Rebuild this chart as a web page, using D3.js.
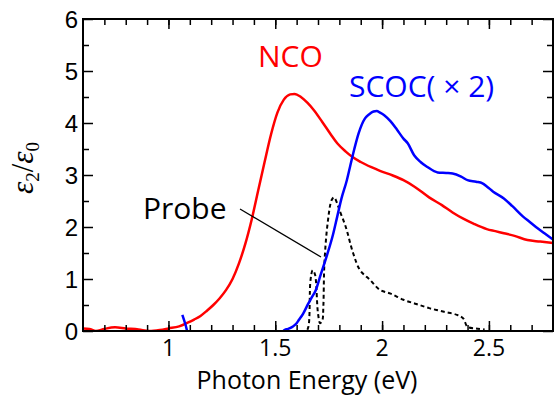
<!DOCTYPE html>
<html><head><meta charset="utf-8">
<script src="https://cdn.jsdelivr.net/npm/d3@7/dist/d3.min.js"></script>
<style>body{margin:0;background:#fff}svg{display:block}</style>
</head><body><svg id="c" width="554" height="397"></svg>
<script>
// NCO epsilon2/epsilon0 (photon energy eV, value)
const ncoE = [0.60,0.63,0.66,0.70,0.75,0.80,0.86,0.91,0.96,1.00,1.05,1.09,1.12,1.15,1.18,1.21,1.24,1.27,1.30,1.33,1.36,1.39,1.42,1.45,1.48,1.51,1.54,1.57,1.59,1.62,1.65,1.68,1.72,1.76,1.79,1.83,1.86,1.90,1.95,1.99,2.05,2.10,2.15,2.22,2.28,2.33,2.38,2.43,2.49,2.53,2.57,2.62,2.68,2.74,2.80];
const ncoV = [0.05,0.04,0.00,0.04,0.07,0.05,0.03,0.00,0.02,0.05,0.09,0.16,0.22,0.29,0.39,0.50,0.63,0.79,1.00,1.30,1.68,2.15,2.70,3.25,3.78,4.20,4.45,4.55,4.56,4.50,4.39,4.25,4.02,3.78,3.61,3.45,3.35,3.25,3.15,3.08,2.99,2.90,2.78,2.57,2.42,2.28,2.16,2.06,1.96,1.92,1.88,1.83,1.75,1.72,1.69];
// SCOC (x2)
const scocE = [1.065,1.08,1.09,1.15,1.30,1.45,1.53,1.545,1.56,1.58,1.60,1.61,1.63,1.655,1.67,1.69,1.71,1.74,1.77,1.79,1.81,1.835,1.85,1.87,1.89,1.92,1.94,1.96,1.975,1.99,2.01,2.04,2.07,2.10,2.12,2.15,2.18,2.21,2.26,2.30,2.33,2.37,2.40,2.44,2.47,2.49,2.52,2.57,2.61,2.66,2.69,2.72,2.76,2.80];
const scocV = [0.31,0.12,-0.02,-0.15,-0.2,-0.15,-0.03,0.02,0.04,0.08,0.15,0.21,0.33,0.53,0.64,0.79,1.05,1.43,1.85,2.20,2.55,2.90,3.16,3.50,3.80,4.09,4.17,4.22,4.23,4.20,4.15,4.03,3.87,3.70,3.61,3.38,3.25,3.16,3.05,3.04,3.03,2.97,2.90,2.87,2.84,2.78,2.68,2.55,2.40,2.20,2.10,2.00,1.88,1.76];
// Probe spectrum (dashed)
const probeE = [1.62,1.645,1.655,1.665,1.675,1.685,1.69,1.70,1.71,1.72,1.725,1.73,1.745,1.764,1.775,1.79,1.80,1.83,1.865,1.897,1.944,1.99,2.04,2.10,2.16,2.22,2.29,2.35,2.38,2.40,2.44,2.48];
const probeV = [0.0,0.0,0.08,0.98,1.17,1.10,0.98,0.34,0.15,0.20,0.47,1.30,2.07,2.52,2.57,2.45,2.33,2.00,1.49,1.17,0.98,0.79,0.72,0.60,0.52,0.44,0.37,0.31,0.24,0.08,0.05,0.03];
const xTicks = [1, 1.5, 2, 2.5];
const yTicks = [0, 1, 2, 3, 4, 5, 6];

const svg = d3.select("#c");
const L = 83, R = 553, T = 19, B = 331;
const x = d3.scaleLinear().domain([0.6, 2.8]).range([L, R]);
const y = d3.scaleLinear().domain([0, 6]).range([B, T]);

svg.append("defs").append("clipPath").attr("id","clip")
  .append("rect").attr("x",L).attr("y",T).attr("width",R-L).attr("height",B-T);

const line = d3.line().x(d=>x(d[0])).y(d=>y(d[1])).curve(d3.curveMonotoneX);
const g = svg.append("g").attr("clip-path","url(#clip)");
g.append("path").datum(probeE.map((e,i)=>[e,probeV[i]]))
  .attr("d", d3.line().x(d=>x(d[0])).y(d=>y(d[1])).curve(d3.curveCatmullRom))
  .attr("fill","none").attr("stroke","#000").attr("stroke-width",2).attr("stroke-dasharray","4,3");
g.append("path").datum(ncoE.map((e,i)=>[e,ncoV[i]])).attr("d", line)
  .attr("fill","none").attr("stroke","#ff0000").attr("stroke-width",2.5);
g.append("path").datum(scocE.map((e,i)=>[e,scocV[i]])).attr("d", line)
  .attr("fill","none").attr("stroke","#0000ff").attr("stroke-width",2.5);

// axes
const xMinor = d3.range(0.7, 2.8, 0.1).map(v=>+v.toFixed(1));
const yMinor = d3.range(0.5, 6, 1);
function ticksG(axisGen, tr, major, minor, size, msize){
  const a = svg.append("g").attr("transform", tr);
  a.call(axisGen.tickValues(minor).tickSize(msize).tickFormat(""));
  a.select(".domain").remove();
  a.selectAll("line").attr("stroke","#000").attr("stroke-width",1.5);
  const b = svg.append("g").attr("transform", tr);
  b.call(axisGen.tickValues(major).tickSize(size).tickFormat(""));
  b.select(".domain").remove();
  b.selectAll("line").attr("stroke","#000").attr("stroke-width",1.5);
}
ticksG(d3.axisTop(x), `translate(0,${B})`, xTicks, xMinor, 10, 6);
ticksG(d3.axisBottom(x), `translate(0,${T})`, xTicks, xMinor, 10, 6);
ticksG(d3.axisRight(y), `translate(${L},0)`, yTicks, yMinor, 10, 6);
ticksG(d3.axisLeft(y), `translate(${R},0)`, yTicks, yMinor, 10, 6);
svg.append("rect").attr("x",L).attr("y",T).attr("width",R-L).attr("height",B-T)
  .attr("fill","none").attr("stroke","#000").attr("stroke-width",2);

// tick labels
svg.append("g").selectAll("text").data(yTicks).join("text")
  .attr("x", L-5).attr("y", d=>y(d)+8.5).attr("text-anchor","end")
  .attr("font-family","Liberation Sans, Arial, sans-serif").attr("font-size",24)
  .text(d=>d);
svg.append("g").selectAll("text").data(xTicks).join("text")
  .attr("x", d=>x(d)).attr("y", B+25).attr("text-anchor","middle")
  .attr("font-family","Open Sans, sans-serif").attr("font-size",23)
  .text(d=>d);

svg.append("text").attr("x", 307).attr("y", 389).attr("text-anchor","middle")
  .attr("font-family","Open Sans, sans-serif").attr("font-size",25)
  .text("Photon Energy (eV)");

const yt = svg.append("text").attr("transform","translate(33,168) rotate(-90)")
  .attr("text-anchor","middle").attr("font-family","Liberation Serif, serif").attr("font-size",31);
yt.append("tspan").attr("font-style","italic").text("ε");
yt.append("tspan").attr("font-size",19).attr("dy",6).text("2");
yt.append("tspan").attr("dy",-6).text("/");
yt.append("tspan").attr("font-style","italic").text("ε");
yt.append("tspan").attr("font-size",19).attr("dy",6).text("0");

svg.append("text").attr("x",258).attr("y",67).attr("fill","#ff0000")
  .attr("font-family","Open Sans, sans-serif").attr("font-size",30).text("NCO");
svg.append("text").attr("x",349).attr("y",97).attr("fill","#0000ff")
  .attr("font-family","Open Sans, sans-serif").attr("font-size",30).text("SCOC( × 2)");
svg.append("text").attr("x",143).attr("y",219).attr("fill","#000")
  .attr("font-family","Open Sans, sans-serif").attr("font-size",30).text("Probe");
svg.append("line").attr("x1",240).attr("y1",209).attr("x2",321).attr("y2",257)
  .attr("stroke","#000").attr("stroke-width",1.3);
</script></body></html>
